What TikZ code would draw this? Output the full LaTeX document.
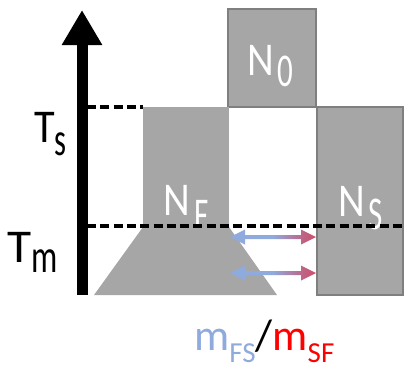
\documentclass[tikz,border=0pt]{standalone}
\usepackage{fontspec}
\setmainfont{Carlito}
\usetikzlibrary{arrows.meta,calc}
\definecolor{boxgray}{HTML}{A6A6A6}
\definecolor{edgegray}{HTML}{7F7F7F}
\definecolor{mblue}{HTML}{8FAADC}
\definecolor{mred}{HTML}{D5425E}
\definecolor{lred}{HTML}{FF0000}
\pgfdeclarehorizontalshading{bluered}{100bp}{color(0bp)=(mblue); color(25bp)=(mblue); color(50bp)=(mblue); color(68bp)=(mred!70!mblue); color(78bp)=(mred); color(100bp)=(mred)}
\newcommand\gradarrow[2]{\shade[shading=bluered]
  (#1) -- ++(15,-7.5) -- ++(0,5.5) -- ($(#2)+(-15,-2)$) -- ++(0,-5.5) -- (#2)
  -- ++(-15,7.5) -- ++(0,-5.5) -- ($(#1)+(15,2)$) -- ++(0,5.5) -- cycle;}
\newcommand\bigtxt{\fontsize{47}{47}\selectfont}
\tikzset{
  lab/.style={inner sep=0pt, anchor=base west, text=#1, font=\bigtxt},
  lab/.default=black,
  boxfill/.style={fill=boxgray, draw=none},
  boxedge/.style={fill=boxgray, draw=edgegray, line width=2pt},
  level/.style={line width=3.5pt, dash pattern=on 9pt off 4.3pt},
}
\begin{document}
\begin{tikzpicture}[x=1pt,y=-1pt]
\useasboundingbox (0,0) rectangle (410,368);
% coordinates
\coordinate (axb) at (82,295);
\coordinate (axt) at (82,10);
\coordinate (tsl) at (87,107);
\coordinate (tsr) at (143,107);
\coordinate (tml) at (87,226);
\coordinate (tmr) at (404,226);
% boxes
\path[boxedge] (228,9) rectangle (316,107);
\path[boxedge] (317,107) rectangle (403,295);
\path[boxfill] (143,107) rectangle (229,227);
% labels inside boxes
\node[lab=white] (N0) at (247,75) {\scalebox{0.88}[1]{N}\kern4pt\raisebox{-11pt}{\scalebox{0.66}[1]{0}}};
\node[lab=white] (NF) at (163,215) {\scalebox{0.88}[1]{N}\kern5pt\raisebox{-15pt}{\scalebox{0.66}[1]{F}}};
\node[lab=white] (NS) at (338,216) {\scalebox{0.88}[1]{N}\kern4pt\raisebox{-13pt}{\scalebox{0.66}[1]{S}}};
% trapezoid (drawn over F)
\fill[boxgray] (143,227) -- (229,227) -- (277,295) -- (94,295) -- cycle;
% axis
\draw[line width=11pt, -{Triangle[length=35pt,width=38pt]}] (axb) -- (axt);
% level lines
\draw[level] (tsl) -- (tsr);
\draw[level] (tml) -- (tmr);
% axis labels
\node[lab] (Ts) at (34,142) {\scalebox{0.9}[1]{T}\raisebox{-13pt}{\scalebox{0.65}[1]{s}}};
\node[lab] (Tm) at (7,262) {\scalebox{1.05}[1]{T}\raisebox{-10pt}{\scalebox{0.7}[1]{m}}};
% exchange arrows
\coordinate (a1l) at (230,237);
\coordinate (a1r) at (316,237);
\coordinate (a2l) at (230,273);
\coordinate (a2r) at (316,273);
\gradarrow{a1l}{a1r}
\gradarrow{a2l}{a2r}
% bottom label
\node[inner sep=0pt, anchor=base west, font=\fontsize{44}{44}\selectfont] (mlab) at (194,350)
  {\textcolor{mblue}{m\raisebox{-12pt}{\fontsize{29}{29}\selectfont FS}}/\textcolor{lred}{m\raisebox{-12pt}{\fontsize{29}{29}\selectfont SF}}};
\end{tikzpicture}
\end{document}
